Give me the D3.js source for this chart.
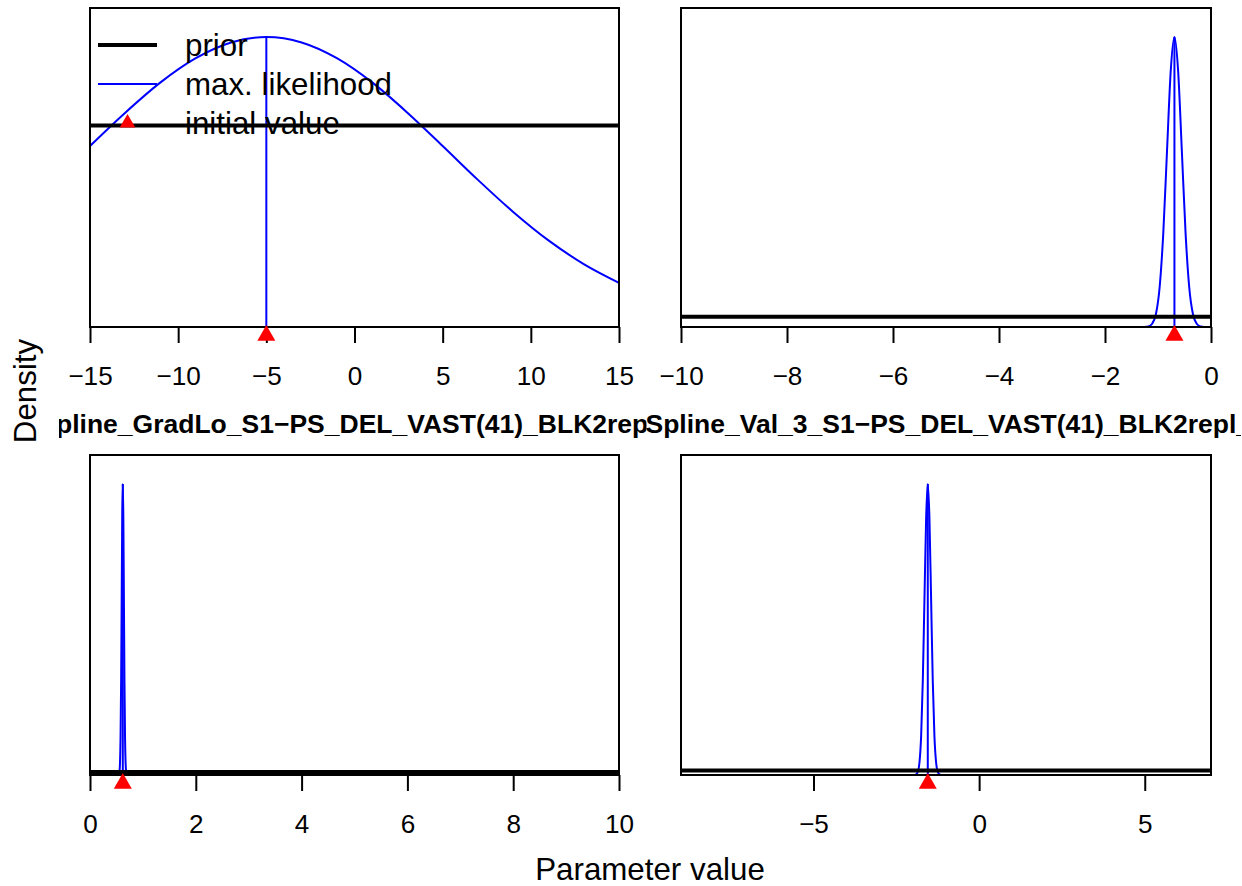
<!DOCTYPE html>
<html><head><meta charset="utf-8">
<script src="https://cdn.jsdelivr.net/npm/d3@7"></script>
<style>
html,body{margin:0;padding:0;background:#fff;}
svg{display:block;font-family:"Liberation Sans",Arial,Helvetica,sans-serif;}
</style>
</head><body>
<svg id="chart" width="1242" height="886"></svg>
<script>
// ---------------- data ----------------
const panelTitles = [
  "SizeSpline_GradLo_S1\u2212PS_DEL_VAST(41)_BLK2repl_1990",
  "SizeSpline_Val_3_S1\u2212PS_DEL_VAST(41)_BLK2repl_1990",
  null,
  null
];
const xDomains = [[-15, 15], [-10, 0], [0, 10], [-9, 7]];
const xTicks = [
  [-15, -10, -5, 0, 5, 10, 15],
  [-10, -8, -6, -4, -2, 0],
  [0, 2, 4, 6, 8, 10],
  [-5, 0, 5]
];
const priorDensity = [0.0333, 0.1, 0.1, 0.0625];

const p1X   = [-15, -13, -11, -9, -7, -5, -3, -1, 1, 3, 5, 7, 9, 11, 13, 15];
const p1Mle = [0.0299, 0.0354, 0.0404, 0.0444, 0.0470, 0.0479, 0.0470, 0.0444, 0.0404, 0.0354, 0.0299, 0.0243, 0.0190, 0.0143, 0.0104, 0.0073];

const p2X   = [-10, -1.25, -1.18, -1.11, -1.04, -0.97, -0.90, -0.83, -0.76, -0.69, -0.62, -0.55, -0.48, -0.41, -0.34, -0.27, -0.20, -0.13, 0];
const p2Mle = [0, 0.001, 0.006, 0.032, 0.125, 0.386, 0.925, 1.729, 2.515, 2.85, 2.515, 1.729, 0.925, 0.386, 0.125, 0.032, 0.006, 0.001, 0];

const p3X   = [0, 0.536, 0.5465, 0.557, 0.5675, 0.578, 0.5885, 0.599, 0.6095, 0.620, 0.6305, 0.641, 0.6515, 0.662, 0.6725, 0.683, 0.6935, 0.704, 10];
const p3Mle = [0, 0.0032, 0.021, 0.105, 0.417, 1.286, 3.08, 5.76, 8.38, 9.50, 8.38, 5.76, 3.08, 1.286, 0.417, 0.105, 0.021, 0.0032, 0];

const p4X   = [-9, -1.95, -1.90, -1.85, -1.80, -1.75, -1.70, -1.65, -1.60, -1.55, -1.50, -1.45, -1.40, -1.35, -1.30, -1.25, -1.20, -1.15, 7];
const p4Mle = [0, 0.0014, 0.009, 0.044, 0.175, 0.540, 1.30, 2.42, 3.52, 3.99, 3.52, 2.42, 1.30, 0.540, 0.175, 0.044, 0.009, 0.0014, 0];

const mleX = [p1X, p2X, p3X, p4X];
const mleY = [p1Mle, p2Mle, p3Mle, p4Mle];
const mleEstimate  = [-5, -0.69, 0.62, -1.55];
const initialValue = [-5, -0.69, 0.62, -1.55];

const legendLabels = ["prior", "max. likelihood", "initial value"];
const xAxisLabel = "Parameter value";
const yAxisLabel = "Density";

// ---------------- layout ----------------
const svg = d3.select("#chart");
const plotRects = [
  {x0: 90,  x1: 619,  y0: 8,   y1: 327},
  {x0: 681, x1: 1211, y0: 8,   y1: 327},
  {x0: 90,  x1: 619,  y0: 455, y1: 775},
  {x0: 681, x1: 1211, y0: 455, y1: 775}
];
const figClips = [
  {x0: 59,  x1: 646.5, y0: 0,   y1: 443},
  {x0: 645, x1: 1241,  y0: 0,   y1: 443},
  {x0: 59,  x1: 646.5, y0: 443, y1: 840},
  {x0: 645, x1: 1241,  y0: 443, y1: 840}
];
// where the first visible glyph of each clipped title begins, and how many hidden leading chars
const titleVisibleStart = [{px: 56, hidden: 5}, {px: 645.5, hidden: 4}];
const tickFont = 26.1, titleFont = 26.5, outerFont = 31.3;
const defs = svg.append("defs");

plotRects.forEach((r, i) => {
  defs.append("clipPath").attr("id", "plotclip" + i)
    .append("rect").attr("x", r.x0).attr("y", r.y0).attr("width", r.x1 - r.x0).attr("height", r.y1 - r.y0);
  const fc = figClips[i];
  defs.append("clipPath").attr("id", "figclip" + i)
    .append("rect").attr("x", fc.x0).attr("y", fc.y0).attr("width", fc.x1 - fc.x0).attr("height", fc.y1 - fc.y0);

  const x = d3.scaleLinear().domain(xDomains[i]).range([r.x0, r.x1]);
  const ymax = Math.max(d3.max(mleY[i]), priorDensity[i]);
  const y = d3.scaleLinear().domain([0, 1.1 * ymax]).range([r.y1, r.y0]);

  const g = svg.append("g");
  const inner = g.append("g").attr("clip-path", "url(#plotclip" + i + ")");

  // MLE curve
  const pts = mleX[i].map((v, k) => [v, mleY[i][k]]);
  const line = d3.line().x(d => x(d[0])).y(d => y(d[1])).curve(d3.curveMonotoneX);
  inner.append("path").datum(pts).attr("d", line)
    .attr("fill", "none").attr("stroke", "#0000ff").attr("stroke-width", 2);
  // MLE vertical line
  inner.append("line")
    .attr("x1", x(mleEstimate[i])).attr("x2", x(mleEstimate[i]))
    .attr("y1", y(0)).attr("y2", y(d3.max(mleY[i])))
    .attr("stroke", "#0000ff").attr("stroke-width", 2);
  // prior
  inner.append("line")
    .attr("x1", x(xDomains[i][0])).attr("x2", x(xDomains[i][1]))
    .attr("y1", y(priorDensity[i])).attr("y2", y(priorDensity[i]))
    .attr("stroke", "#000").attr("stroke-width", 4);

  // x axis
  const ax = g.append("g").attr("transform", `translate(0,${r.y1})`)
    .call(d3.axisBottom(x).tickValues(xTicks[i]).tickSize(16).tickPadding(10)
      .tickFormat(d => d3.format("d")(d).replace("-", "\u2212")));
  ax.select(".domain").attr("stroke", "#000").attr("stroke-width", 2)
    .attr("d", `M${x(xTicks[i][0])},0H${x(xTicks[i][xTicks[i].length - 1])}`);
  ax.selectAll(".tick line").attr("stroke", "#000").attr("stroke-width", 2);
  ax.selectAll(".tick text").attr("font-size", tickFont).attr("fill", "#000")
    .attr("font-family", "Liberation Sans, Arial, sans-serif").attr("dy", "1.22em");

  // box
  g.append("rect").attr("x", r.x0).attr("y", r.y0).attr("width", r.x1 - r.x0).attr("height", r.y1 - r.y0)
    .attr("fill", "none").attr("stroke", "#000").attr("stroke-width", 2);

  // initial value marker
  g.append("path").attr("d", d3.symbol(d3.symbolTriangle, 140)())
    .attr("transform", `translate(${x(initialValue[i])},${y(0) + 8.5})`)
    .attr("fill", "#ff0000");

  // panel title (clipped to its figure region, like the original)
  if (panelTitles[i]) {
    const t = svg.append("g").attr("clip-path", "url(#figclip" + i + ")")
      .append("text").attr("x", 0).attr("y", r.y1 + 106)
      .attr("text-anchor", "start").attr("font-weight", "bold").attr("font-size", titleFont)
      .attr("fill", "#000").text(panelTitles[i]);
    const vs = titleVisibleStart[i];
    let pre = 0;
    try { pre = t.node().getSubStringLength(0, vs.hidden); } catch (e) { pre = vs.hidden * 0.53 * titleFont; }
    t.attr("x", vs.px - pre);
  }

  // legend in first panel
  if (i === 0) {
    const lg = svg.append("g");
    const rowY = [45, 84, 123];
    const lx0 = 98, lx1 = 157, tx = 185;
    lg.append("line").attr("x1", lx0).attr("x2", lx1).attr("y1", rowY[0]).attr("y2", rowY[0])
      .attr("stroke", "#000").attr("stroke-width", 4);
    lg.append("line").attr("x1", lx0).attr("x2", lx1).attr("y1", rowY[1]).attr("y2", rowY[1])
      .attr("stroke", "#0000ff").attr("stroke-width", 2);
    lg.append("path").attr("d", d3.symbol(d3.symbolTriangle, 106)())
      .attr("transform", `translate(${(lx0 + lx1) / 2},${rowY[2]})`).attr("fill", "#ff0000");
    legendLabels.forEach((t, k) => {
      lg.append("text").attr("x", tx).attr("y", rowY[k]).attr("dy", "0.35em")
        .attr("font-size", outerFont).attr("fill", "#000").text(t);
    });
  }
});

// outer labels
svg.append("text").attr("x", 650).attr("y", 880).attr("text-anchor", "middle")
  .attr("font-size", outerFont).attr("fill", "#000").text(xAxisLabel);
svg.append("text").attr("transform", "translate(36,391) rotate(-90)").attr("text-anchor", "middle")
  .attr("font-size", outerFont).attr("fill", "#000").text(yAxisLabel);
</script>
</body></html>
